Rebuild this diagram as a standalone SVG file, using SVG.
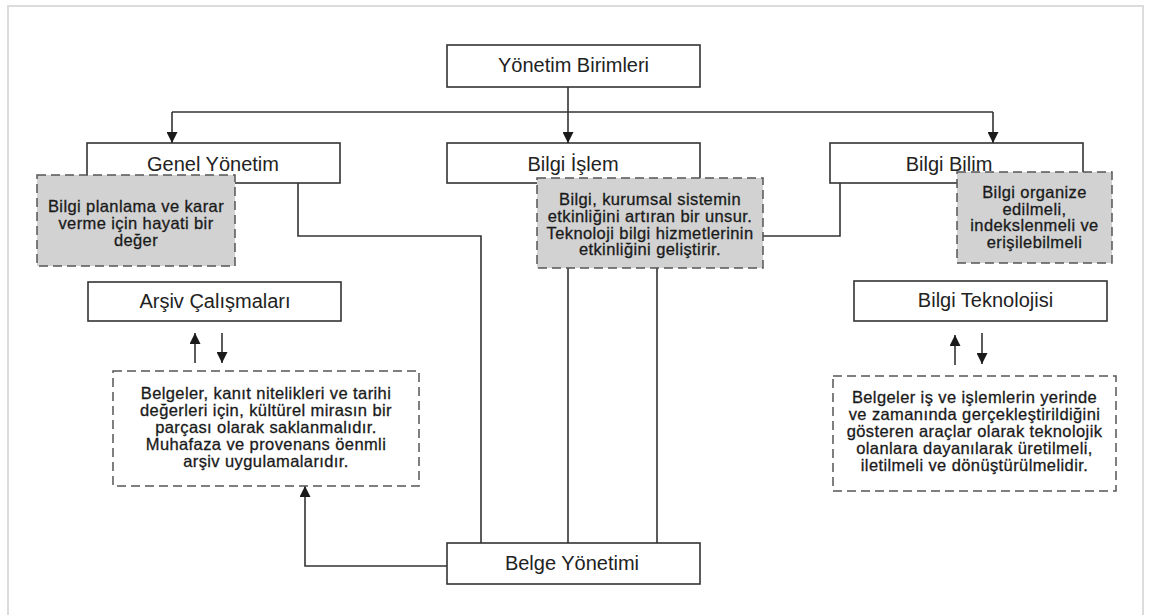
<svg xmlns="http://www.w3.org/2000/svg" width="1149" height="615" viewBox="0 0 1149 615">
  <defs>
    <marker id="arrow" viewBox="0 0 10 10" refX="10" refY="5" markerWidth="11" markerHeight="11" markerUnits="userSpaceOnUse" orient="auto">
      <path d="M0,0 L10,5 L0,10 Z" fill="#1a1a1a"/>
    </marker>
    <style>
      .frame { fill: #ffffff; stroke: #dcdcdc; stroke-width: 2; }
      .box { fill: #ffffff; stroke: #333333; stroke-width: 1.6; }
      .note { fill: #d2d2d2; stroke: #555555; stroke-width: 1.5; stroke-dasharray: 9 5; }
      .note-w { fill: #ffffff; stroke: #555555; stroke-width: 1.5; stroke-dasharray: 9 5; }
      .wire { fill: none; stroke: #333333; stroke-width: 1.6; }
      .label { font-family: "Liberation Sans", Arial, sans-serif; font-size: 20px; fill: #222222; text-anchor: middle; }
      .txt { font-family: "Liberation Sans", Arial, sans-serif; font-size: 16.5px; letter-spacing: 0.4px; fill: #1a1a1a; text-anchor: middle; stroke: #1a1a1a; stroke-width: 0.3; }
    </style>
  </defs>

  <rect class="frame" x="8" y="6" width="1135" height="620"/>

  <!-- rectangular unit boxes -->
  <g id="yonetim-birimleri">
    <rect class="box" x="447" y="45" width="253" height="42"/>
    <text class="label" x="573.5" y="72">Yönetim Birimleri</text>
  </g>
  <g id="genel-yonetim">
    <rect class="box" x="87" y="143" width="253" height="40"/>
    <text class="label" x="213" y="171">Genel Yönetim</text>
  </g>
  <g id="bilgi-islem">
    <rect class="box" x="447" y="143" width="253" height="40"/>
    <text class="label" x="573" y="171">Bilgi İşlem</text>
  </g>
  <g id="bilgi-bilim">
    <rect class="box" x="830" y="143" width="253" height="40"/>
    <text class="label" x="949" y="171">Bilgi Bilim</text>
  </g>
  <g id="arsiv-calismalari">
    <rect class="box" x="88" y="282" width="253" height="39"/>
    <text class="label" x="215" y="308">Arşiv Çalışmaları</text>
  </g>
  <g id="bilgi-teknolojisi">
    <rect class="box" x="854" y="281" width="253" height="40"/>
    <text class="label" x="985.5" y="307">Bilgi Teknolojisi</text>
  </g>
  <g id="belge-yonetimi">
    <rect class="box" x="447" y="543" width="253" height="41"/>
    <text class="label" x="572" y="570">Belge Yönetimi</text>
  </g>

  <!-- connectors -->
  <g id="connectors">
    <path class="wire" d="M568,87 V143" marker-end="url(#arrow)"/>
    <path class="wire" d="M172,112 H993"/>
    <path class="wire" d="M172,112 V143" marker-end="url(#arrow)"/>
    <path class="wire" d="M993,112 V143" marker-end="url(#arrow)"/>
    <path class="wire" d="M298,183 V236 H481 V543"/>
    <path class="wire" d="M568,268 V543"/>
    <path class="wire" d="M657,268 V543"/>
    <path class="wire" d="M840,183 V236 H763"/>
    <path class="wire" d="M447,566 H305 V486" marker-end="url(#arrow)"/>
    <path class="wire" d="M195,363 V333" marker-end="url(#arrow)"/>
    <path class="wire" d="M222,333 V363" marker-end="url(#arrow)"/>
    <path class="wire" d="M955,365 V335" marker-end="url(#arrow)"/>
    <path class="wire" d="M982,333 V364" marker-end="url(#arrow)"/>
  </g>

  <!-- shaded notes -->
  <g id="not-genel">
    <rect class="note" x="37" y="175" width="198" height="91"/>
    <text class="txt" x="136" y="212">Bilgi planlama ve karar</text>
    <text class="txt" x="136" y="229">verme için hayati bir</text>
    <text class="txt" x="136" y="245.5">değer</text>
  </g>
  <g id="not-islem">
    <rect class="note" x="537" y="178" width="226" height="90"/>
    <text class="txt" x="650" y="205">Bilgi, kurumsal sistemin</text>
    <text class="txt" x="650" y="222">etkinliğini artıran bir unsur.</text>
    <text class="txt" x="650" y="238.5">Teknoloji bilgi hizmetlerinin</text>
    <text class="txt" x="650" y="255">etkinliğini geliştirir.</text>
  </g>
  <g id="not-bilim">
    <rect class="note" x="957" y="172" width="155" height="91"/>
    <text class="txt" x="1034.5" y="198">Bilgi organize</text>
    <text class="txt" x="1034.5" y="214.5">edilmeli,</text>
    <text class="txt" x="1034.5" y="231">indekslenmeli ve</text>
    <text class="txt" x="1034.5" y="247.5">erişilebilmeli</text>
  </g>

  <!-- open notes -->
  <g id="not-arsiv">
    <rect class="note-w" x="113" y="371" width="306" height="115"/>
    <text class="txt" x="266" y="399">Belgeler, kanıt nitelikleri ve tarihi</text>
    <text class="txt" x="266" y="416">değerleri için, kültürel mirasın bir</text>
    <text class="txt" x="266" y="432.5">parçası olarak saklanmalıdır.</text>
    <text class="txt" x="266" y="449.5">Muhafaza ve provenans öenmli</text>
    <text class="txt" x="266" y="466.5">arşiv uygulamalarıdır.</text>
  </g>
  <g id="not-teknoloji">
    <rect class="note-w" x="833" y="376" width="283" height="115"/>
    <text class="txt" x="974.5" y="403">Belgeler iş ve işlemlerin yerinde</text>
    <text class="txt" x="974.5" y="420">ve zamanında gerçekleştirildiğini</text>
    <text class="txt" x="974.5" y="437">gösteren araçlar olarak teknolojik</text>
    <text class="txt" x="974.5" y="454">olanlara dayanılarak üretilmeli,</text>
    <text class="txt" x="974.5" y="471">iletilmeli ve dönüştürülmelidir.</text>
  </g>
</svg>
